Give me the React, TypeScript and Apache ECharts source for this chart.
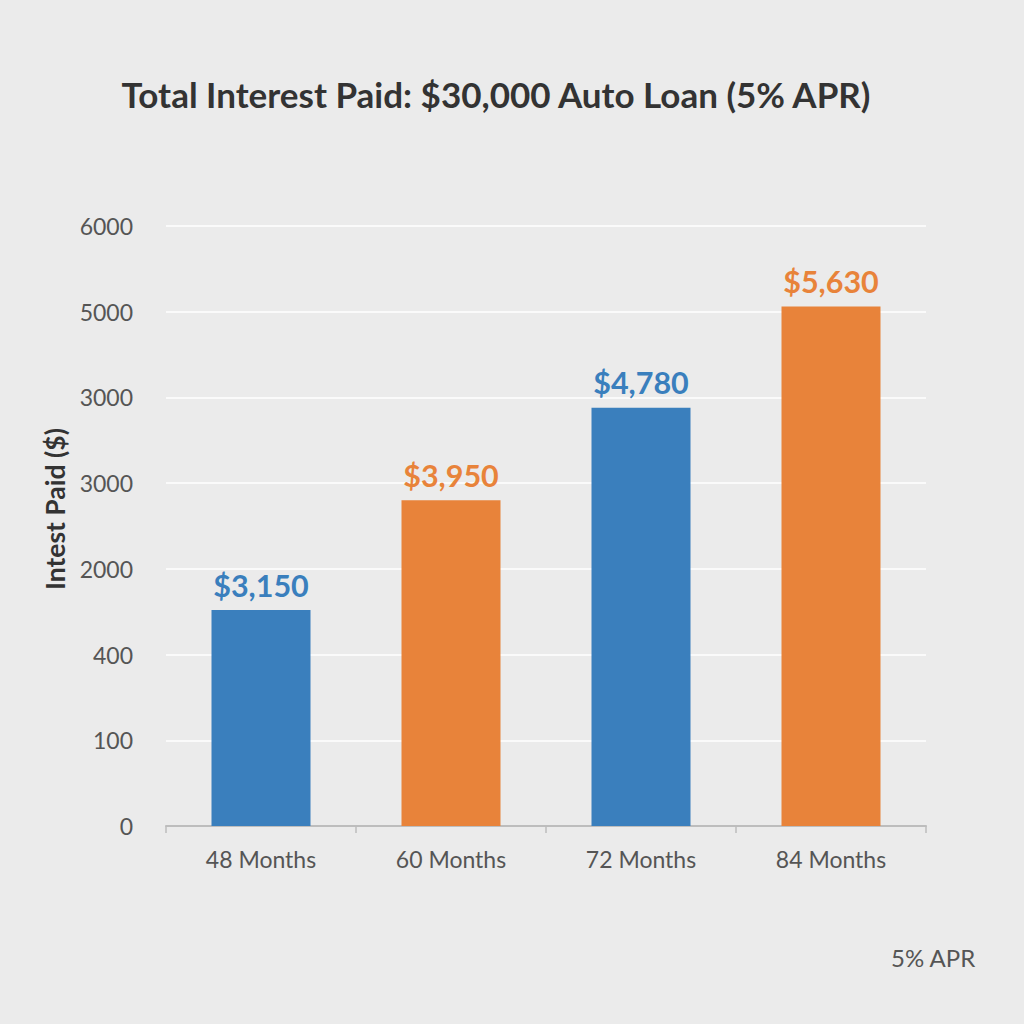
import React, { useEffect, useRef } from "react";
import * as echarts from "echarts";

const categories = ["48 Months", "60 Months", "72 Months", "84 Months"];
// bar heights measured in gridline steps (the y axis shows one label per step)
const barHeights = [2.52, 3.8, 4.88, 6.06];
const barLabels = ["$3,150", "$3,950", "$4,780", "$5,630"];
const yTickLabels = ["0", "100", "400", "2000", "3000", "3000", "5000", "6000"];
const barColors = ["#3a7fbd", "#e8833a", "#3a7fbd", "#e8833a"];

export default function App() {
  const ref = useRef<HTMLDivElement>(null);
  useEffect(() => {
    document.body.style.margin = "0";
    const chart = echarts.init(ref.current!, undefined, { renderer: "svg" });
    chart.setOption({
      animation: false,
      backgroundColor: "#ebebeb",
      title: {
        text: "Total Interest Paid: $30,000 Auto Loan (5% APR)",
        left: 491,
        textAlign: "center",
        top: 71,
        textStyle: { fontFamily: "Lato", fontWeight: "bold", fontSize: 35, color: "#333333" },
      },
      grid: { left: 166, right: 98, top: 226, bottom: 198 },
      xAxis: {
        type: "category",
        data: categories,
        axisLine: { lineStyle: { color: "#bdbdbd", width: 2 } },
        axisTick: { show: true, length: 7, lineStyle: { color: "#bdbdbd", width: 1.5 } },
        axisLabel: { fontFamily: "Lato", fontSize: 23, color: "#555555", margin: 21 },
      },
      yAxis: {
        type: "value",
        min: 0,
        max: 7,
        interval: 1,
        name: "Intest Paid ($)",
        nameLocation: "middle",
        nameRotate: 90,
        nameGap: 96,
        nameTextStyle: {
          fontFamily: "Lato",
          fontWeight: "bold",
          fontSize: 26.5,
          color: "#333333",
          padding: [0, 0, 0, 34],
        },
        axisLine: { show: false },
        axisTick: { show: false },
        splitLine: { lineStyle: { color: "#fafafa", width: 2 } },
        axisLabel: {
          fontFamily: "Lato",
          fontSize: 23,
          color: "#555555",
          margin: 33,
          formatter: (v: number) => yTickLabels[Math.round(v)] ?? "",
        },
      },
      series: [
        {
          type: "bar",
          barWidth: 99,
          data: barHeights.map((v, i) => ({ value: v, itemStyle: { color: barColors[i] } })),
          label: {
            show: true,
            position: "top",
            distance: 10,
            fontFamily: "Lato",
            fontWeight: "bold",
            fontSize: 30.5,
            formatter: (p: any) => barLabels[p.dataIndex],
            color: "inherit",
          },
        },
      ],
      graphic: [
        {
          type: "text",
          right: 48,
          top: 945,
          style: { text: "5% APR", fontFamily: "Lato", fontSize: 24, fill: "#555555" },
        },
      ],
    });
    return () => chart.dispose();
  }, []);
  return <div ref={ref} style={{ width: 1024, height: 1024 }} />;
}
